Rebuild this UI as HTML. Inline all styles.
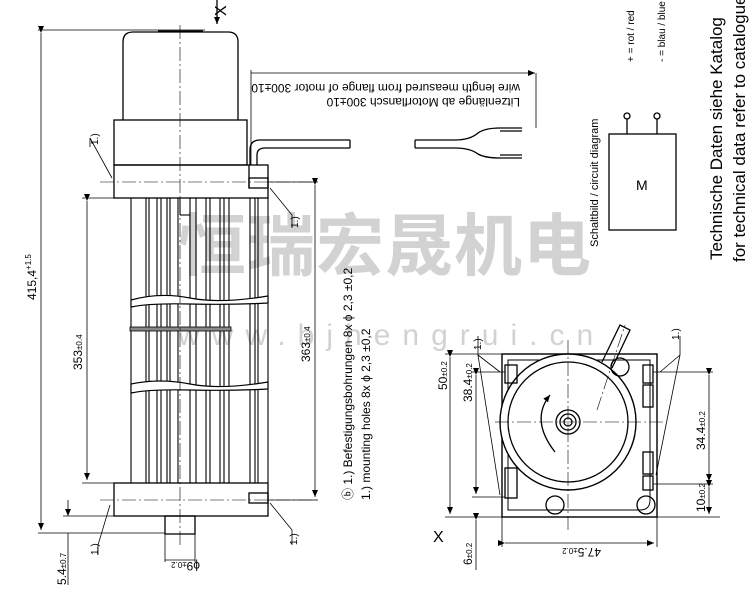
<!DOCTYPE html>
<html><head><meta charset="utf-8"><style>
html,body{margin:0;padding:0;background:#fff;}
svg{display:block;font-family:"Liberation Sans","DejaVu Sans",sans-serif;}
</style></head><body>
<svg width="750" height="591" viewBox="0 0 750 591" xmlns="http://www.w3.org/2000/svg">
<defs>
<marker id="a" markerWidth="8" markerHeight="8" refX="7" refY="3" orient="auto" markerUnits="userSpaceOnUse"><path d="M0,0 L7,3 L0,6 z" fill="#000"/></marker>
</defs>
<rect width="750" height="591" fill="#fff"/>
<!-- watermark -->
<text x="178" y="270" font-size="68" font-weight="bold" fill="#d2d2d2" font-family="'Noto Sans CJK SC',sans-serif" letter-spacing="1">恒瑞宏晟机电</text>
<text x="178" y="345" font-size="30" fill="#d2d2d2" letter-spacing="12">www.bjhengrui.cn</text>
<g stroke="#000" fill="none" stroke-width="1.3">
<line x1="217" y1="0" x2="217" y2="24" marker-end="url(#a)"/>
<path d="M123,120 L123,42 Q123,32 133,32 L228,32 Q238,32 238,42 L238,120"/>
<line x1="158" y1="31" x2="203" y2="31"/>
<rect x="114" y="120" width="133" height="45"/>
<rect x="114" y="165" width="154" height="33"/>
<rect x="249" y="178" width="19" height="10"/>
<line x1="249" y1="165" x2="249" y2="188"/>
<path d="M250,165 L250,150 Q250,140 260,140 L350,140"/>
<path d="M257,165 L257,155 Q257,148 265,148 L350,148"/>
<line x1="350" y1="140" x2="350" y2="148"/>
<path d="M415,140 L455,140 Q470,140 478,133 Q485,128 500,128 L522,128"/>
<path d="M415,148 L455,148 Q470,148 478,154 Q485,158 500,158 L522,158"/>
<line x1="415" y1="140" x2="415" y2="148"/>
<line x1="500" y1="131" x2="522" y2="131"/>
<line x1="500" y1="155" x2="522" y2="155"/>
<line x1="251" y1="70" x2="251" y2="165" stroke-width="0.8"/>
<line x1="251" y1="73" x2="535" y2="73" stroke-width="0.8" marker-end="url(#a)"/>
<line x1="536" y1="73" x2="536" y2="128" stroke-width="0.8"/>
<g stroke-width="1.1">
<line x1="131" y1="198" x2="131" y2="483"/><line x1="146" y1="198" x2="146" y2="483"/><line x1="149" y1="198" x2="149" y2="483"/>
<line x1="157" y1="198" x2="157" y2="483"/><line x1="161" y1="198" x2="161" y2="483"/><line x1="167" y1="198" x2="167" y2="483"/>
<line x1="170" y1="198" x2="170" y2="483"/><line x1="178" y1="198" x2="178" y2="483"/><line x1="190" y1="198" x2="190" y2="483"/>
<line x1="196" y1="198" x2="196" y2="483"/><line x1="206" y1="198" x2="206" y2="483"/><line x1="210" y1="198" x2="210" y2="483"/>
<line x1="220" y1="198" x2="220" y2="483"/><line x1="224" y1="198" x2="224" y2="483"/><line x1="229" y1="198" x2="229" y2="483"/>
<line x1="250" y1="198" x2="250" y2="483"/><line x1="255" y1="198" x2="255" y2="483"/><line x1="258" y1="198" x2="258" y2="483"/>
<line x1="268" y1="198" x2="268" y2="483"/>
<line x1="180" y1="198" x2="180" y2="215"/><line x1="190" y1="215" x2="180" y2="215"/>
</g>
<path d="M131,300 Q160,292 190,298 T268,296 L268,303 Q230,305 190,304 T131,307 z" fill="#fff" stroke-width="1.2"/>
<path d="M131,384 Q160,378 190,384 T268,382 L268,389 Q230,391 190,390 T131,393 z" fill="#fff" stroke-width="1.2"/>
<rect x="130" y="327" width="101" height="4" fill="#888" stroke-width="0.8"/>
<rect x="114" y="483" width="154" height="33"/>
<rect x="249" y="493" width="19" height="10"/>
<rect x="165" y="516" width="30" height="18"/>
<line x1="180" y1="25" x2="180" y2="545" stroke-width="0.6" stroke-dasharray="14,3,2,3"/>
<line x1="100" y1="182" x2="318" y2="182" stroke-width="0.6" stroke-dasharray="14,3,2,3"/>
<line x1="100" y1="500" x2="318" y2="500" stroke-width="0.6" stroke-dasharray="14,3,2,3"/>
<g stroke-width="0.8">
<line x1="38" y1="30" x2="205" y2="30"/>
<line x1="38" y1="533" x2="165" y2="533"/>
<line x1="41" y1="33" x2="41" y2="530" marker-start="url(#a)" marker-end="url(#a)"/>
<line x1="82" y1="198" x2="114" y2="198"/>
<line x1="82" y1="483" x2="130" y2="483"/>
<line x1="87" y1="201" x2="87" y2="480" marker-start="url(#a)" marker-end="url(#a)"/>
<line x1="268" y1="182" x2="318" y2="182"/>
<line x1="268" y1="500" x2="318" y2="500"/>
<line x1="315" y1="185" x2="315" y2="497" marker-start="url(#a)" marker-end="url(#a)"/>
<line x1="63" y1="516" x2="114" y2="516"/>
<line x1="68" y1="500" x2="68" y2="516" marker-end="url(#a)"/>
<line x1="68" y1="533" x2="68" y2="585"/>
<line x1="165" y1="560" x2="195" y2="560"/>
<line x1="165" y1="534" x2="165" y2="562"/><line x1="195" y1="534" x2="195" y2="562"/>
<polyline points="90,147 90,138 112,178"/>
<polyline points="292,228 292,215 270,188"/>
<polyline points="98,555 98,545 110,505"/>
<polyline points="292,545 292,530 270,503"/>
</g>
<rect x="609" y="134" width="67" height="96"/>
<line x1="627" y1="119" x2="627" y2="134"/><line x1="657" y1="119" x2="657" y2="134"/>
<circle cx="627" cy="116" r="3"/><circle cx="657" cy="116" r="3"/>
<rect x="502" y="354" width="155" height="163" stroke-width="1.4"/>
<path d="M508,360 L650,360 L650,500 Q650,510 640,510 L508,510 z" stroke-width="1"/>
<circle cx="568" cy="422" r="68" stroke-width="1.4" fill="#fff"/>
<circle cx="568" cy="422" r="60"/>
<circle cx="568" cy="422" r="12"/><circle cx="568" cy="422" r="8"/><circle cx="568" cy="422" r="4"/>
<path d="M555,452 Q530,420 550,395" marker-end="url(#a)" stroke-width="1.3"/>
<path d="M602,362 L620,325 L630,330 L612,368" />
<circle cx="620" cy="367" r="9"/><circle cx="555" cy="505" r="9"/><circle cx="646" cy="505" r="9"/>
<rect x="505" y="365" width="12" height="18"/><rect x="505" y="468" width="12" height="30"/>
<rect x="643" y="365" width="10" height="18"/><rect x="643" y="385" width="10" height="22"/><rect x="643" y="452" width="10" height="22"/><rect x="643" y="476" width="10" height="14"/>
<g stroke-width="0.6" stroke-dasharray="14,3,2,3">
<line x1="568" y1="340" x2="568" y2="530"/><line x1="495" y1="422" x2="665" y2="422"/>
<line x1="597" y1="410" x2="625" y2="325"/>
</g>
<g stroke-width="0.8">
<line x1="445" y1="354" x2="502" y2="354"/><line x1="445" y1="517" x2="720" y2="517"/>
<line x1="450" y1="357" x2="450" y2="514" marker-start="url(#a)" marker-end="url(#a)"/>
<line x1="472" y1="372" x2="505" y2="372"/><line x1="472" y1="497" x2="505" y2="497"/>
<line x1="476" y1="375" x2="476" y2="494" marker-start="url(#a)" marker-end="url(#a)"/>
<line x1="476" y1="520" x2="476" y2="570" marker-start="url(#a)"/>
<line x1="653" y1="372" x2="713" y2="372"/><line x1="653" y1="484" x2="713" y2="484"/>
<line x1="709" y1="375" x2="709" y2="481" marker-start="url(#a)" marker-end="url(#a)"/>
<line x1="709" y1="487" x2="709" y2="514" marker-start="url(#a)" marker-end="url(#a)"/>
<line x1="502" y1="517" x2="502" y2="547"/><line x1="657" y1="517" x2="657" y2="547"/>
<line x1="505" y1="543" x2="654" y2="543" marker-start="url(#a)" marker-end="url(#a)"/>
<polyline points="478,336 478,355 500,372"/><line x1="478" y1="355" x2="500" y2="495"/>
<polyline points="680,336 680,355 660,372"/><line x1="680" y1="355" x2="656" y2="475"/>
</g>
</g>
<g font-size="12" fill="#000">
<text transform="translate(226,16) rotate(-90)" font-size="16">X</text>
<text transform="translate(520,84) rotate(180)" font-size="12">wire length measured from flange of motor 300±10</text>
<text transform="translate(520,98) rotate(180)" font-size="12">Litzenlänge ab Motorflansch 300±10</text>
<text transform="translate(36,300) rotate(-90)">415,4<tspan dy="-5" font-size="8">+1.5</tspan></text>
<text transform="translate(82,370) rotate(-90)">353<tspan font-size="8">±0.4</tspan></text>
<text transform="translate(310,362) rotate(-90)">363<tspan font-size="8">±0.4</tspan></text>
<text transform="translate(66,585) rotate(-90)">5.4<tspan font-size="8">±0.7</tspan></text>
<text transform="translate(200,562) rotate(180)">ϕ9<tspan font-size="8">±0.2</tspan></text>
<text transform="translate(98,145) rotate(-90)" font-size="10">1.)</text>
<text transform="translate(298,228) rotate(-90)" font-size="10">1.)</text>
<text transform="translate(98,555) rotate(-90)" font-size="10">1.)</text>
<text transform="translate(297,545) rotate(-90)" font-size="10">1.)</text>
<text transform="translate(352,500) rotate(-90)">ⓑ 1.) Befestigungsbohrungen 8x ϕ 2,3 ±0,2</text>
<text transform="translate(370,500) rotate(-90)">   1.) mounting holes 8x ϕ 2,3 ±0,2</text>
<text transform="translate(598,247) rotate(-90)" font-size="11">Schaltbild / circuit diagram</text>
<text x="636" y="190" font-size="14">M</text>
<text transform="translate(634,62) rotate(-90)" font-size="10">+ = rot  / red</text>
<text transform="translate(665,62) rotate(-90)" font-size="10">- = blau / blue</text>
<text transform="translate(722,260) rotate(-90)" font-size="17">Technische Daten siehe Katalog</text>
<text transform="translate(745,262) rotate(-90)" font-size="17">for technical data refer to catalogue</text>
<text transform="translate(447,390) rotate(-90)">50<tspan font-size="8">±0.2</tspan></text>
<text transform="translate(472,402) rotate(-90)">38.4<tspan font-size="8">±0.2</tspan></text>
<text transform="translate(705,450) rotate(-90)">34.4<tspan font-size="8">±0.2</tspan></text>
<text transform="translate(705,512) rotate(-90)">10<tspan font-size="8">±0.2</tspan></text>
<text transform="translate(472,565) rotate(-90)">6<tspan font-size="8">±0.2</tspan></text>
<text transform="translate(601,548) rotate(180)">47.5<tspan font-size="8">±0.2</tspan></text>
<text x="433" y="542" font-size="16">X</text>
<text transform="translate(481,350) rotate(-90)" font-size="10">1.)</text>
<text transform="translate(679,340) rotate(-90)" font-size="10">1.)</text>
</g>
</svg>
</body></html>
